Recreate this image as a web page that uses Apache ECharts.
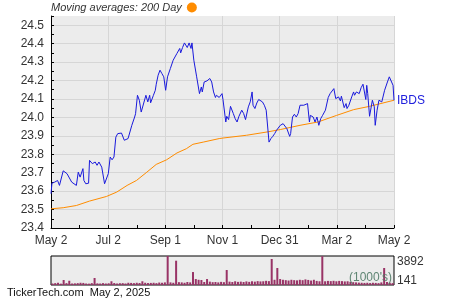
<!DOCTYPE html>
<html><head><meta charset="utf-8">
<script src="https://cdn.jsdelivr.net/npm/echarts@6/dist/echarts.min.js"></script>
<style>html,body{margin:0;padding:0;background:#fff}#c{width:450px;height:300px}</style>
</head><body><div id="c"></div>
<script>
// x = calendar days since May 2, 2024
const xTickLabels = ['May 2','Jul 2','Sep 1','Nov 1','Dec 31','Mar 2','May 2'];
const tickerName = 'IBDS';
const maName = 'Moving averages: 200 Day';
const ibdsPrice = [[0,23.586],[1,23.643],[4,23.649],[7,23.658],[9,23.631],[11,23.636],[13,23.71],[17,23.695],[19,23.698],[22,23.649],[24,23.64],[27,23.631],[29,23.703],[31,23.676],[34,23.722],[35,23.658],[37,23.64],[40,23.643],[41,23.767],[44,23.749],[47,23.758],[49,23.74],[51,23.758],[54,23.73],[56,23.74],[57,23.64],[58,23.631],[61,23.695],[63,23.785],[65,23.77],[67,23.785],[69,23.893],[71,23.912],[73,23.903],[75,23.915],[78,23.876],[80,23.866],[82,23.885],[84,23.893],[86,23.957],[88,23.952],[89,24.002],[90,24.02],[92,24.12],[94,24.093],[96,24.029],[98,24.024],[101,24.12],[103,24.084],[105,24.12],[106,24.079],[109,24.12],[111,24.147],[112,24.18],[114,24.229],[116,24.256],[118,24.238],[120,24.22],[122,24.147],[124,24.22],[127,24.265],[130,24.31],[132,24.307],[134,24.347],[137,24.374],[138,24.35],[140,24.379],[142,24.404],[144,24.401],[145,24.379],[147,24.404],[149,24.374],[150,24.404],[152,24.31],[153,24.31],[155,24.22],[158,24.129],[160,24.165],[161,24.138],[163,24.192],[166,24.198],[167,24.192],[169,24.211],[171,24.192],[173,24.138],[175,24.108],[176,24.12],[179,24.108],[182,24.129],[183,24.097],[186,23.975],[187,24.006],[189,23.988],[191,24.06],[194,24.021],[196,23.993],[198,23.975],[200,24.006],[203,24.039],[205,24.021],[207,23.988],[210,24.057],[212,24.084],[214,24.138],[215,24.066],[217,24.048],[219,24.078],[221,24.097],[223,24.089],[225,24.084],[227,24.066],[229,24.039],[231,24.039],[232,23.866],[234,23.885],[236,23.897],[238,23.912],[240,23.93],[242,23.926],[244,23.957],[247,23.966],[249,23.962],[251,23.939],[254,23.897],[255,23.912],[257,24.002],[259,24.017],[261,24.002],[263,24.021],[265,24.066],[267,24.075],[269,24.066],[271,24.07],[273,24.075],[275,23.975],[276,24.011],[279,24.002],[281,23.975],[283,24.002],[285,23.957],[287,23.993],[289,24.011],[292,24.039],[293,24.048],[295,24.108],[297,24.129],[299,24.12],[301,24.156],[303,24.102],[306,24.111],[308,24.089],[309,24.115],[312,24.053],[314,24.075],[315,24.048],[317,24.066],[320,24.111],[322,24.138],[323,24.12],[325,24.138],[328,24.129],[330,24.161],[332,24.18],[333,24.174],[335,24.097],[336,24.174],[337,24.13],[339,24.006],[340,24.006],[342,24.093],[344,24.057],[345,23.957],[347,24.039],[349,24.093],[352,24.084],[354,24.075],[355,24.147],[356,24.156],[358,24.192],[360,24.22],[362,24.229],[364,24.174],[365,24.093]];
const ma200 = [[0,23.504],[13,23.51],[27,23.522],[41,23.546],[59,23.571],[70,23.595],[81,23.631],[91,23.658],[102,23.703],[112,23.745],[123,23.77],[134,23.807],[144,23.83],[151,23.854],[162,23.866],[179,23.885],[183,23.888],[208,23.903],[230,23.921],[244,23.934],[265,23.957],[284,23.975],[304,24.011],[322,24.042],[339,24.06],[365,24.093]];
// volume (thousands), one bar per ~3 days
const volume = [200,250,300,180,670,250,570,200,220,250,300,280,200,180,250,940,220,200,250,200,230,500,260,200,240,250,200,300,280,250,300,270,500,300,260,280,300,250,330,300,350,3892,350,300,3260,380,350,300,400,350,1740,800,700,670,400,800,450,380,400,350,420,380,2010,450,400,500,420,450,400,480,420,500,450,520,480,500,560,520,3490,700,2280,800,700,650,600,700,650,620,700,650,750,680,600,700,550,500,3870,500,550,520,560,500,550,520,480,500,420,380,350,320,300,280,300,260,300,280,250,350,2280,400,300,250];
const volumeMax = 3892;
const volumeLabels = ['3892','141'];
const volumeUnit = "(1000's)";
const footer = 'TickerTech.com  May 2, 2025';

const TXT = '#333';
const FONT = 'Arial, "Liberation Sans", sans-serif';
const step = 365/6;
const chart = echarts.init(document.getElementById('c'), null, {renderer:'canvas'});
chart.setOption({
  animation:false,
  backgroundColor:'#fff',
  textStyle:{fontFamily:FONT},
  legend:{data:['200 Day'],left:51,top:2,padding:0,align:'right',icon:'circle',itemWidth:10,itemHeight:10,itemGap:6,
    formatter:()=>maName,textStyle:{fontStyle:'italic',fontSize:11,color:TXT,fontFamily:FONT}},
  grid:[
    {left:51,top:16,width:343,height:212,show:true,backgroundColor:'#ececec',borderWidth:0,containLabel:false},
    {left:51,top:256,width:343,height:29,show:true,backgroundColor:'#ececec',borderColor:'#000',borderWidth:1}
  ],
  xAxis:[
    {type:'value',gridIndex:0,min:0,max:365,interval:step,
      axisLine:{show:true,lineStyle:{color:'#000',width:1}},
      axisTick:{show:true,inside:true,length:3,lineStyle:{color:'#000'}},
      minorTick:{show:true,splitNumber:2,length:3,lineStyle:{color:'#000'}},
      splitLine:{show:true,lineStyle:{color:'#d6d6d6',width:1}},
      axisLabel:{fontSize:12,color:TXT,margin:7,showMaxLabel:true,
        formatter:v=>{const i=Math.round(v/step);return Math.abs(v-i*step)<0.5?xTickLabels[i]:'';}}},
    {type:'category',gridIndex:1,data:volume.map((_,i)=>i),show:false}
  ],
  yAxis:[
    {type:'value',gridIndex:0,min:23.4,max:24.55,interval:0.1,
      axisLine:{show:true,lineStyle:{color:'#000',width:1}},
      axisTick:{show:true,inside:true,length:3,lineStyle:{color:'#000'}},
      minorTick:{show:true,splitNumber:2,length:3,lineStyle:{color:'#000'}},
      splitLine:{show:true,showMaxLine:false,lineStyle:{color:'#d6d6d6',width:1}},
      axisLabel:{fontSize:12,color:TXT,margin:7,
        formatter:v=>{const r=Math.round(v*10);return Math.abs(v*10-r)<0.01?(r/10).toFixed(1):'';}}},
    {type:'value',gridIndex:1,min:0,max:volumeMax,show:false}
  ],
  series:[
    {name:tickerName,type:'line',xAxisIndex:0,yAxisIndex:0,data:ibdsPrice,symbol:'none',
      lineStyle:{color:'#1a1adc',width:1},itemStyle:{color:'#1a1adc'},z:3,
      endLabel:{show:true,formatter:()=>tickerName,color:'#2020dd',fontSize:12,distance:3,fontFamily:FONT}},
    {name:'200 Day',type:'line',xAxisIndex:0,yAxisIndex:0,data:ma200,symbol:'none',
      lineStyle:{color:'#ff8c00',width:1},itemStyle:{color:'#ff8c00'},z:2},
    {name:'Volume',type:'bar',xAxisIndex:1,yAxisIndex:1,data:volume,barWidth:2,
      itemStyle:{color:'#993366'}}
  ],
  graphic:[
    {type:'text',left:397,top:256,style:{text:volumeLabels[0],fontSize:12,fill:TXT,fontFamily:FONT}},
    {type:'text',left:397,top:275,style:{text:volumeLabels[1],fontSize:12,fill:TXT,fontFamily:FONT}},
    {type:'text',left:349,top:272,z:100,style:{text:volumeUnit,fontSize:12,fill:'#4f7a66',opacity:0.9,fontFamily:FONT}},
    {type:'text',left:7,top:287,style:{text:footer,fontSize:11,fill:'#111',fontFamily:FONT}}
  ]
});
</script></body></html>
